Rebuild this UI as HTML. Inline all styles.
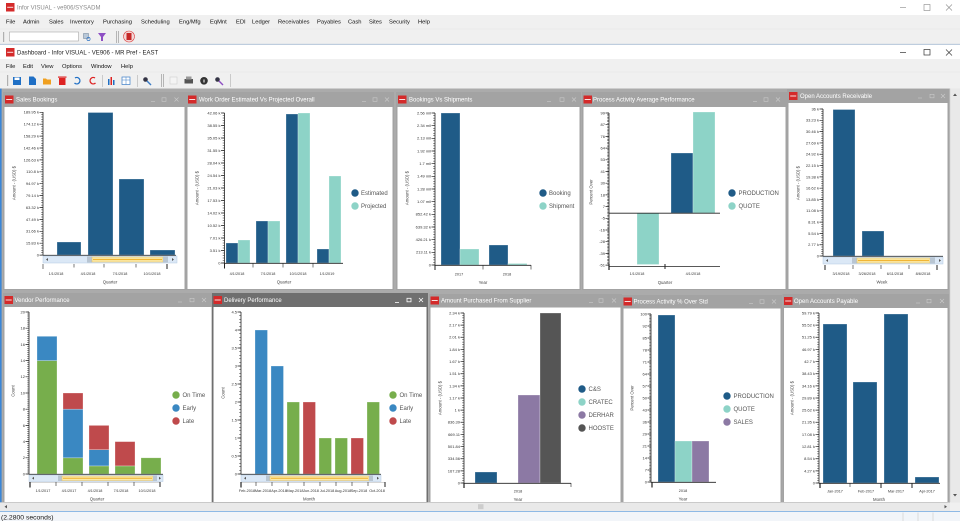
<!DOCTYPE html>
<html><head><meta charset="utf-8"><style>
html,body{margin:0;padding:0;background:#f0f0f0;overflow:hidden}
svg{display:block}
text{font-family:"Liberation Sans",Arial,sans-serif}
.yt{font-size:4px;fill:#333;text-anchor:end}
.xt{font-size:3.8px;fill:#333;text-anchor:middle}
.ax{font-size:4.3px;fill:#444;text-anchor:middle}
.lg{font-size:6px;fill:#555}
.tt{font-size:6px;fill:#fff}
.mn{font-size:5.8px;fill:#111}
.ctl{stroke:#cacaca;stroke-width:.6;fill:none}
.ctw{stroke:#fff;stroke-width:.8;fill:none}
.A{fill:#1f5b87}.B{fill:#8dd3c7}.P{fill:#8c79a4}.G{fill:#77ae4c}.E{fill:#3a88c2}.R{fill:#bf4a4c}.K{fill:#555}
.bars rect{stroke:#fff;stroke-opacity:.45;stroke-width:.6}
.axl{stroke:#222;stroke-width:.8}
.mj{stroke:#222;stroke-width:3.5}
.mi{stroke:#222;stroke-width:1.8}
.tk{stroke:#222;stroke-width:.6}
</style></head><body>
<svg width="960" height="521" viewBox="0 0 960 521" xmlns="http://www.w3.org/2000/svg">
<!-- ===== Window chrome ===== -->
<rect x="0" y="0" width="960" height="15" fill="#fff"/>
<rect x="0" y="15" width="960" height="14" fill="#f0f0f0"/>
<rect x="0" y="29" width="960" height="15" fill="#f0f0f0"/>
<line x1="0" y1="29" x2="960" y2="29" stroke="#e4e4e4" stroke-width=".6"/>
<line x1="0" y1="44.3" x2="960" y2="44.3" stroke="#9fb6cf" stroke-width=".8"/>
<rect x="0" y="44.8" width="960" height="14.2" fill="#fff"/>
<rect x="0" y="59" width="960" height="13" fill="#f0f0f0"/>
<rect x="0" y="72" width="960" height="17" fill="#f0f0f0"/>
<line x1="0" y1="72" x2="960" y2="72" stroke="#e4e4e4" stroke-width=".6"/>

<!-- outer title -->
<rect x="6" y="3" width="8.5" height="8.5" fill="#d42a2a"/>
<rect x="7.2" y="6.8" width="6" height="1" fill="#fff" opacity=".85"/>
<text x="17" y="9.6" style="font-size:6px;fill:#8a8a8a">Infor VISUAL - ve906/SYSADM</text>
<line x1="900" y1="7.5" x2="906" y2="7.5" stroke="#888" stroke-width=".6"/>
<rect x="924" y="4.5" width="6" height="6" fill="none" stroke="#888" stroke-width=".6"/>
<path d="M946 4.5 L952 10.5 M952 4.5 L946 10.5" stroke="#888" stroke-width=".6"/>

<!-- outer menu -->
<g class="mn">
<text x="6" y="23.6">File</text>
<text x="23" y="23.6">Admin</text>
<text x="49" y="23.6">Sales</text>
<text x="70" y="23.6">Inventory</text>
<text x="103" y="23.6">Purchasing</text>
<text x="141" y="23.6">Scheduling</text>
<text x="179" y="23.6">Eng/Mfg</text>
<text x="210" y="23.6">EqMnt</text>
<text x="236" y="23.6">EDI</text>
<text x="252" y="23.6">Ledger</text>
<text x="278" y="23.6">Receivables</text>
<text x="317" y="23.6">Payables</text>
<text x="348" y="23.6">Cash</text>
<text x="369" y="23.6">Sites</text>
<text x="389" y="23.6">Security</text>
<text x="418" y="23.6">Help</text>
</g>

<!-- outer toolbar -->
<rect x="3" y="32" width="1.2" height="10" fill="#b0b0b0"/>
<rect x="9.5" y="32" width="69" height="9" fill="#fff" stroke="#a8a8a8" stroke-width=".6"/>
<rect x="83.5" y="33.5" width="5" height="5" fill="#b8c8d8" stroke="#6a7f95" stroke-width=".5"/>
<circle cx="88.5" cy="39" r="1.6" fill="none" stroke="#2d72c4" stroke-width=".7"/>
<path d="M98 33 L106 33 L103 37 L103 41 L101 41 L101 37 Z" fill="#8e4fc4"/>
<rect x="116" y="31" width="1" height="12" fill="#b5b5b5"/>
<rect x="118" y="31" width="1" height="12" fill="#b5b5b5"/>
<circle cx="129" cy="36.5" r="5.5" fill="#f3d7d7" stroke="#d44" stroke-width=".6"/>
<rect x="126.5" y="33" width="5" height="7" fill="#c52727"/>

<!-- inner title -->
<rect x="6" y="48" width="8.5" height="8.5" fill="#d42a2a"/>
<rect x="7.2" y="51.8" width="6" height="1" fill="#fff" opacity=".85"/>
<text x="17" y="54.6" style="font-size:6px;fill:#222">Dashboard - Infor VISUAL - VE906 - MR Pref - EAST</text>
<line x1="900" y1="52.5" x2="906" y2="52.5" stroke="#333" stroke-width=".7"/>
<rect x="924" y="49.5" width="6" height="5.5" fill="none" stroke="#333" stroke-width=".7"/>
<path d="M946 49.5 L952 55.5 M952 49.5 L946 55.5" stroke="#333" stroke-width=".7"/>

<!-- inner menu -->
<g class="mn">
<text x="6" y="67.8">File</text>
<text x="23" y="67.8">Edit</text>
<text x="41" y="67.8">View</text>
<text x="62" y="67.8">Options</text>
<text x="91" y="67.8">Window</text>
<text x="121" y="67.8">Help</text>
</g>

<!-- inner toolbar icons -->
<rect x="7" y="75" width="1.2" height="11" fill="#b0b0b0"/>
<rect x="13" y="77" width="8" height="8" fill="#1f6fc5"/><rect x="14.5" y="77.5" width="5" height="2.5" fill="#fff"/>
<path d="M29 76.5 L33.5 76.5 L36 79 L36 85 L29 85 Z" fill="#1f6fc5"/>
<path d="M43 78.5 L46 78.5 L47 79.5 L51 79.5 L51 84.5 L43 84.5 Z" fill="#f0a020"/>
<rect x="59" y="78" width="6.5" height="7" fill="#d22"/><rect x="58" y="76.5" width="8.5" height="1.2" fill="#d22"/>
<path d="M75 78 A3.2 3.2 0 1 1 74.5 83" fill="none" stroke="#1f6fc5" stroke-width="1.3"/>
<path d="M95 78 A3.2 3.2 0 1 0 95.5 83" fill="none" stroke="#d22" stroke-width="1.3"/>
<rect x="102" y="75" width=".8" height="12" fill="#c0c0c0"/>
<rect x="108" y="79" width="1.5" height="6" fill="#1f6fc5"/><rect x="110.5" y="77" width="1.5" height="8" fill="#d22"/><rect x="113" y="80" width="1.5" height="5" fill="#1f6fc5"/>
<rect x="122" y="77" width="8" height="7.5" fill="#fff" stroke="#3b7cc6" stroke-width=".7"/><line x1="122" y1="80" x2="130" y2="80" stroke="#3b7cc6" stroke-width=".5"/><line x1="126" y1="77" x2="126" y2="84.5" stroke="#3b7cc6" stroke-width=".5"/>
<rect x="137" y="75" width=".8" height="12" fill="#c0c0c0"/>
<circle cx="145.5" cy="79.5" r="2.3" fill="#334"/><path d="M147 81 L151 85" stroke="#3b7cc6" stroke-width="1.4"/>
<rect x="161" y="74" width="1" height="13" fill="#b5b5b5"/><rect x="163" y="74" width="1" height="13" fill="#b5b5b5"/>
<rect x="170" y="77" width="7" height="7" fill="#f4f4f4" stroke="#cfcfcf" stroke-width=".6"/>
<rect x="184.5" y="79" width="8.5" height="4.5" fill="#555"/><rect x="186" y="76.5" width="5.5" height="3" fill="#999"/>
<circle cx="204" cy="80.8" r="3.8" fill="#333"/><rect x="203.5" y="79.5" width="1" height="3" fill="#fff"/>
<circle cx="217.5" cy="79.5" r="2.3" fill="#334"/><path d="M219 81 L223 85" stroke="#8e4fc4" stroke-width="1.4"/>
<rect x="230" y="74" width=".8" height="13" fill="#c0c0c0"/>

<!-- MDI area -->
<rect x="0" y="88.5" width="950" height="414" fill="#ababab"/>
<rect x="0" y="88.5" width="1.6" height="423" fill="#3b86d6"/>
<rect x="950" y="88.5" width="10" height="414" fill="#e9e9e9"/>
<line x1="950" y1="88.5" x2="950" y2="502" stroke="#cfcfcf" stroke-width=".6"/>
<path d="M953 96 L955 93.5 L957 96 Z" fill="#555"/>
<path d="M953 494 L955 496.5 L957 494 Z" fill="#555"/>

<!-- ================= P1 Sales Bookings ================= -->
<rect x="3" y="92" width="183" height="198" fill="#a3a3a3"/>
<rect x="4.5" y="107" width="180" height="182" fill="#fff"/>
<rect x="5" y="95.5" width="8.5" height="8" fill="#d42a2a"/><rect x="6.2" y="99" width="6" height="1" fill="#fff" opacity=".85"/>
<text class="tt" x="16" y="101.7">Sales Bookings</text>
<g class="ctl"><line x1="151" y1="101.5" x2="155" y2="101.5"/><rect x="162" y="97.8" width="4" height="3.5"/><path d="M174.5 97.5 L178.5 101.5 M178.5 97.5 L174.5 101.5"/></g>
<line class="axl" x1="43" y1="112" x2="43" y2="255.5"/>
<line class="mj" x1="41.25" y1="111.95" x2="41.25" y2="256" stroke-dasharray="0.7 11.2"/>
<line class="mi" x1="42.1" y1="112.05" x2="42.1" y2="256" stroke-dasharray="0.5 1.88"/>
<g class="yt">
<text x="39" y="113.7">189.95 k</text><text x="39" y="125.6">174.12 k</text><text x="39" y="137.5">158.29 k</text><text x="39" y="149.4">142.46 k</text><text x="39" y="161.3">126.63 k</text><text x="39" y="173.2">110.8 k</text><text x="39" y="185.1">94.97 k</text><text x="39" y="197">79.14 k</text><text x="39" y="208.9">63.32 k</text><text x="39" y="220.8">47.49 k</text><text x="39" y="232.7">31.66 k</text><text x="39" y="244.6">15.83 k</text><text x="39" y="256.5">0</text>
</g>
<g class="bars A">
<rect x="57" y="242" width="24" height="13"/><rect x="88" y="112.5" width="25" height="142.5"/><rect x="119" y="179" width="25" height="76"/><rect x="150" y="250" width="25" height="5"/>
</g>
<line class="axl" x1="43" y1="255.3" x2="176" y2="255.3"/>
<rect x="43" y="256" width="134" height="7" fill="#dbe8f6" stroke="#b3cae2" stroke-width=".5"/>
<path d="M46 259.5 L48 258 L48 261 Z" fill="#555"/>
<rect x="87" y="256.5" width="5" height="6" fill="#b8c5d2"/>
<rect x="92" y="257" width="71" height="5" fill="#fbe9a8" stroke="#e2bd60" stroke-width=".5"/>
<rect x="93" y="258.9" width="69" height="1.2" fill="#f1b534"/>
<rect x="163" y="256.5" width="5" height="6" fill="#b8c5d2"/>
<path d="M174 259.5 L172 258 L172 261 Z" fill="#555"/>
<g class="tk"><line x1="43" y1="264" x2="43" y2="269"/><line x1="74" y1="264" x2="74" y2="267.5"/><line x1="104" y1="264" x2="104" y2="267.5"/><line x1="136" y1="264" x2="136" y2="267.5"/><line x1="167" y1="264" x2="167" y2="269" stroke-width="1"/></g>
<g class="xt"><text x="56" y="274.8">1/1/2018</text><text x="88" y="274.8">4/1/2018</text><text x="120" y="274.8">7/1/2018</text><text x="152" y="274.8">10/1/2018</text></g>
<text class="ax" x="110" y="283.5">Quarter</text>
<text class="ax" transform="translate(15.5,183) rotate(-90)">Amount - (USD) $</text>

<!-- ================= P2 Work Order ================= -->
<rect x="186" y="92" width="208" height="198" fill="#a3a3a3"/>
<rect x="187.5" y="107" width="205" height="182" fill="#fff"/>
<rect x="188" y="95.5" width="8.5" height="8" fill="#d42a2a"/><rect x="189.2" y="99" width="6" height="1" fill="#fff" opacity=".85"/>
<text class="tt" x="199" y="101.7">Work Order Estimated Vs Projected Overall</text>
<g class="ctl"><line x1="362" y1="101.5" x2="366" y2="101.5"/><rect x="373" y="97.8" width="4" height="3.5"/><path d="M385 97.5 L389 101.5 M389 97.5 L385 101.5"/></g>
<line class="axl" x1="224.5" y1="113" x2="224.5" y2="263.5"/>
<line class="mj" x1="222.75" y1="112.65" x2="222.75" y2="264" stroke-dasharray="0.7 11.8"/>
<line class="mi" x1="223.6" y1="112.75" x2="223.6" y2="264" stroke-dasharray="0.5 2"/>
<g class="yt">
<text x="220.5" y="114.4">42.06 k</text><text x="220.5" y="126.9">38.55 k</text><text x="220.5" y="139.4">35.05 k</text><text x="220.5" y="151.9">31.55 k</text><text x="220.5" y="164.4">28.04 k</text><text x="220.5" y="176.9">24.54 k</text><text x="220.5" y="189.4">21.03 k</text><text x="220.5" y="201.9">17.53 k</text><text x="220.5" y="214.4">14.02 k</text><text x="220.5" y="226.9">10.52 k</text><text x="220.5" y="239.4">7.01 k</text><text x="220.5" y="251.9">3.51 k</text><text x="220.5" y="264.4">0</text>
</g>
<g class="bars">
<rect class="A" x="226" y="243" width="12" height="20"/><rect class="B" x="238" y="240" width="12" height="23"/>
<rect class="A" x="256" y="221" width="12" height="42"/><rect class="B" x="268" y="221" width="12" height="42"/>
<rect class="A" x="286" y="114" width="12" height="149"/><rect class="B" x="298" y="113" width="12" height="150"/>
<rect class="A" x="317" y="249" width="12" height="14"/><rect class="B" x="329" y="176" width="12" height="87"/>
</g>
<line class="axl" x1="224.5" y1="263.3" x2="343" y2="263.3" stroke-width="1"/>
<g class="tk"><line x1="224.5" y1="263" x2="224.5" y2="268.5" stroke-width="1"/><line x1="253" y1="263" x2="253" y2="267.5"/><line x1="283" y1="263" x2="283" y2="267.5"/><line x1="313" y1="263" x2="313" y2="267.5"/></g>
<g class="xt"><text x="237" y="274.8">4/1/2018</text><text x="268" y="274.8">7/1/2018</text><text x="298" y="274.8">10/1/2018</text><text x="327" y="274.8">1/1/2019</text></g>
<text class="ax" x="284" y="283.5">Quarter</text>
<text class="ax" transform="translate(198.5,188) rotate(-90)">Amount - (USD) $</text>
<circle class="A" cx="355" cy="193" r="3.7"/><circle class="B" cx="355" cy="206" r="3.7"/>
<text class="lg" x="361" y="195.2">Estimated</text><text class="lg" x="361" y="208.2">Projected</text>

<!-- ================= P3 Bookings Vs Shipments ================= -->
<rect x="396" y="92" width="185" height="198" fill="#a3a3a3"/>
<rect x="397.5" y="107" width="182" height="182" fill="#fff"/>
<rect x="398" y="95.5" width="8.5" height="8" fill="#d42a2a"/><rect x="399.2" y="99" width="6" height="1" fill="#fff" opacity=".85"/>
<text class="tt" x="409" y="101.7">Bookings Vs Shipments</text>
<g class="ctl"><line x1="547" y1="101.5" x2="551" y2="101.5"/><rect x="560" y="97.8" width="4" height="3.5"/><path d="M572 97.5 L576 101.5 M576 97.5 L572 101.5"/></g>
<line class="axl" x1="435" y1="113" x2="435" y2="265.5"/>
<line class="mj" x1="433.25" y1="112.65" x2="433.25" y2="266" stroke-dasharray="0.7 11.967"/>
<line class="mi" x1="434.1" y1="112.75" x2="434.1" y2="266" stroke-dasharray="0.5 2.033"/>
<g class="yt">
<text x="431" y="114.4">2.56 mil</text><text x="431" y="127.1">2.34 mil</text><text x="431" y="139.7">2.13 mil</text><text x="431" y="152.4">1.92 mil</text><text x="431" y="165.1">1.7 mil</text><text x="431" y="177.7">1.49 mil</text><text x="431" y="190.4">1.28 mil</text><text x="431" y="203.1">1.07 mil</text><text x="431" y="215.7">852.42 k</text><text x="431" y="228.4">639.32 k</text><text x="431" y="241.1">426.21 k</text><text x="431" y="253.7">213.11 k</text><text x="431" y="266.4">0</text>
</g>
<g class="bars">
<rect class="A" x="441" y="113" width="19" height="152"/><rect class="B" x="460" y="249" width="19" height="16"/>
<rect class="A" x="489" y="245" width="19" height="20"/><rect class="B" x="508" y="263.5" width="19" height="1.5"/>
</g>
<line class="axl" x1="435" y1="265.3" x2="531" y2="265.3" stroke-width="1"/>
<g class="tk"><line x1="435" y1="265" x2="435" y2="270" stroke-width="1"/><line x1="483" y1="265" x2="483" y2="269.5"/><line x1="531" y1="265" x2="531" y2="269.5"/></g>
<g class="xt"><text x="459" y="275.3">2017</text><text x="507" y="275.3">2018</text></g>
<text class="ax" x="483" y="284">Year</text>
<text class="ax" transform="translate(408.5,188) rotate(-90)">Amount - (USD) $</text>
<circle class="A" cx="543" cy="193" r="3.7"/><circle class="B" cx="543" cy="206" r="3.7"/>
<text class="lg" x="549" y="195.2">Booking</text><text class="lg" x="549" y="208.2">Shipment</text>

<!-- ================= P4 Process Activity Average Performance ================= -->
<rect x="582" y="92" width="205" height="198" fill="#a3a3a3"/>
<rect x="583.5" y="107" width="202" height="182" fill="#fff"/>
<rect x="583.5" y="95.5" width="8.5" height="8" fill="#d42a2a"/><rect x="584.7" y="99" width="6" height="1" fill="#fff" opacity=".85"/>
<text class="tt" x="593" y="101.7">Process Activity Average Performance</text>
<g class="ctl"><line x1="753" y1="101.5" x2="757" y2="101.5"/><rect x="764" y="97.8" width="4" height="3.5"/><path d="M776 97.5 L780 101.5 M780 97.5 L776 101.5"/></g>
<line class="axl" x1="609" y1="113" x2="609" y2="266"/>
<line class="mj" x1="607.25" y1="112.65" x2="607.25" y2="266" stroke-dasharray="0.7 11"/>
<line class="mi" x1="608.1" y1="112.75" x2="608.1" y2="266" stroke-dasharray="0.5 0.9625"/>
<g class="yt">
<text x="605" y="114.4">99</text><text x="605" y="126.1">87</text><text x="605" y="137.8">76</text><text x="605" y="149.5">64</text><text x="605" y="161.2">53</text><text x="605" y="172.9">41</text><text x="605" y="184.6">30</text><text x="605" y="196.3">18</text><text x="605" y="208">7</text><text x="605" y="219.7">-5</text><text x="605" y="231.4">-16</text><text x="605" y="243.1">-28</text><text x="605" y="254.8">-39</text><text x="605" y="266.5">-51</text>
</g>
<g class="bars">
<rect class="B" x="637" y="213" width="22" height="51.5"/>
<rect class="A" x="671" y="153" width="22" height="60"/><rect class="B" x="693" y="112" width="22" height="101"/>
</g>
<line x1="609" y1="213.2" x2="720" y2="213.2" stroke="#222" stroke-width=".9"/>
<line class="axl" x1="609" y1="266.5" x2="720" y2="266.5" stroke-width="1"/>
<g class="tk"><line x1="609" y1="264" x2="609" y2="270" stroke-width="1.2"/><line x1="665" y1="264" x2="665" y2="269" stroke-width="1"/></g>
<g class="xt"><text x="637" y="275">1/1/2018</text><text x="693" y="275">4/1/2018</text></g>
<text class="ax" x="665" y="284">Quarter</text>
<text class="ax" transform="translate(592.5,192) rotate(-90)">Percent Over</text>
<circle class="A" cx="732" cy="193" r="3.7"/><circle class="B" cx="732" cy="206" r="3.7"/>
<text class="lg" x="738.5" y="195.2">PRODUCTION</text><text class="lg" x="738.5" y="208.2">QUOTE</text>

<!-- ================= P5 Open Accounts Receivable ================= -->
<rect x="787" y="89" width="162" height="201" fill="#a3a3a3"/>
<rect x="788.5" y="103" width="159" height="186" fill="#fff"/>
<rect x="789" y="92" width="8.5" height="8" fill="#d42a2a"/><rect x="790.2" y="95.5" width="6" height="1" fill="#fff" opacity=".85"/>
<text class="tt" x="800" y="98.2">Open Accounts Receivable</text>
<g class="ctl"><line x1="918" y1="98" x2="922" y2="98"/><rect x="930" y="94.3" width="4" height="3.5"/><path d="M941 94 L945 98 M945 94 L941 98"/></g>
<line class="axl" x1="823" y1="109" x2="823" y2="256.5"/>
<line class="mj" x1="821.25" y1="108.65" x2="821.25" y2="257" stroke-dasharray="0.7 10.61"/>
<line class="mi" x1="822.1" y1="108.75" x2="822.1" y2="257" stroke-dasharray="0.5 1.762"/>
<g class="yt">
<text x="819" y="110.4">36 k</text><text x="819" y="121.7">33.23 k</text><text x="819" y="133">30.46 k</text><text x="819" y="144.3">27.69 k</text><text x="819" y="155.6">24.92 k</text><text x="819" y="167">22.15 k</text><text x="819" y="178.3">19.38 k</text><text x="819" y="189.6">16.62 k</text><text x="819" y="200.9">13.85 k</text><text x="819" y="212.2">11.08 k</text><text x="819" y="223.5">8.31 k</text><text x="819" y="234.8">5.54 k</text><text x="819" y="246.1">2.77 k</text><text x="819" y="257.4">0</text>
</g>
<g class="bars A"><rect x="833" y="109.5" width="22" height="146.5"/><rect x="862" y="231" width="22" height="25"/></g>
<line class="axl" x1="823" y1="256.3" x2="943" y2="256.3"/>
<rect x="823" y="257" width="120" height="7" fill="#dbe8f6" stroke="#b3cae2" stroke-width=".5"/>
<path d="M826 260.5 L828 259 L828 262 Z" fill="#555"/>
<rect x="852" y="257.5" width="5" height="6" fill="#b8c5d2"/>
<rect x="857" y="258" width="73" height="5" fill="#fbe9a8" stroke="#e2bd60" stroke-width=".5"/>
<rect x="858" y="259.9" width="71" height="1.2" fill="#f1b534"/>
<rect x="930" y="257.5" width="5" height="6" fill="#b8c5d2"/>
<path d="M941 260.5 L939 259 L939 262 Z" fill="#555"/>
<g class="tk"><line x1="825" y1="265" x2="825" y2="270" stroke-width="1"/><line x1="853" y1="265" x2="853" y2="269"/><line x1="881" y1="265" x2="881" y2="269"/><line x1="909" y1="265" x2="909" y2="269"/><line x1="937" y1="265" x2="937" y2="270" stroke-width="1"/></g>
<g class="xt"><text x="841" y="274.8">3/19/2018</text><text x="867" y="274.8">3/26/2018</text><text x="895" y="274.8">6/11/2018</text><text x="923" y="274.8">8/6/2018</text></g>
<text class="ax" x="882" y="283.5">Week</text>
<text class="ax" transform="translate(799.5,183) rotate(-90)">Amount - (USD) $</text>

<!-- ================= P6 Vendor Performance ================= -->
<rect x="3" y="293" width="210" height="210" fill="#a3a3a3"/>
<rect x="4.5" y="307" width="207" height="195" fill="#fff"/>
<rect x="4.5" y="296" width="8.5" height="8" fill="#d42a2a"/><rect x="5.7" y="299.5" width="6" height="1" fill="#fff" opacity=".85"/>
<text class="tt" x="14.5" y="302.2">Vendor Performance</text>
<g class="ctl"><line x1="178" y1="302" x2="182" y2="302"/><rect x="190" y="298.3" width="4" height="3.5"/><path d="M202 298 L206 302 M206 298 L202 302"/></g>
<line class="axl" x1="29" y1="312" x2="29" y2="474.5"/>
<line class="mj" x1="27.25" y1="311.65" x2="27.25" y2="475" stroke-dasharray="0.7 15.5"/>
<line class="mi" x1="28.1" y1="311.75" x2="28.1" y2="475" stroke-dasharray="0.5 1.525"/>
<g class="yt">
<text x="25" y="313.4">20</text><text x="25" y="329.6">18</text><text x="25" y="345.8">16</text><text x="25" y="362">14</text><text x="25" y="378.2">12</text><text x="25" y="394.4">10</text><text x="25" y="410.6">8</text><text x="25" y="426.8">6</text><text x="25" y="443">4</text><text x="25" y="459.2">2</text><text x="25" y="475.4">0</text>
</g>
<g class="bars">
<rect class="G" x="37" y="360.6" width="20" height="113.4"/><rect class="E" x="37" y="336.3" width="20" height="24.3"/>
<rect class="G" x="63" y="457.8" width="20" height="16.2"/><rect class="E" x="63" y="409.2" width="20" height="48.6"/><rect class="R" x="63" y="393" width="20" height="16.2"/>
<rect class="G" x="89" y="465.9" width="20" height="8.1"/><rect class="E" x="89" y="449.7" width="20" height="16.2"/><rect class="R" x="89" y="425.4" width="20" height="24.3"/>
<rect class="G" x="115" y="465.9" width="20" height="8.1"/><rect class="R" x="115" y="441.6" width="20" height="24.3"/>
<rect class="G" x="141" y="457.8" width="20" height="16.2"/>
</g>
<line class="axl" x1="29" y1="474.3" x2="163" y2="474.3"/>
<rect x="29" y="475" width="134" height="6.5" fill="#dbe8f6" stroke="#b3cae2" stroke-width=".5"/>
<path d="M32 478.2 L34 476.8 L34 479.6 Z" fill="#555"/>
<rect x="58" y="475.5" width="4" height="5.5" fill="#b8c5d2"/>
<rect x="62" y="476" width="91" height="4.5" fill="#fbe9a8" stroke="#e2bd60" stroke-width=".5"/>
<rect x="63" y="477.7" width="89" height="1.1" fill="#f1b534"/>
<rect x="153" y="475.5" width="4" height="5.5" fill="#b8c5d2"/>
<path d="M161 478.2 L159 476.8 L159 479.6 Z" fill="#555"/>
<line x1="29" y1="482.5" x2="160" y2="482.5" stroke="#999" stroke-width=".4"/>
<g class="tk"><line x1="30" y1="482" x2="30" y2="487.5" stroke-width="1.2"/><line x1="56" y1="482" x2="56" y2="486"/><line x1="82" y1="482" x2="82" y2="486"/><line x1="108" y1="482" x2="108" y2="486"/><line x1="134" y1="482" x2="134" y2="486"/><line x1="160" y1="482" x2="160" y2="487" stroke-width="1"/></g>
<g class="xt"><text x="43" y="491.8">1/1/2017</text><text x="69" y="491.8">4/1/2017</text><text x="95" y="491.8">4/1/2018</text><text x="121" y="491.8">7/1/2018</text><text x="147" y="491.8">10/1/2018</text></g>
<text class="ax" x="97" y="500.5">Quarter</text>
<text class="ax" transform="translate(14.5,391) rotate(-90)">Count</text>
<circle class="G" cx="176" cy="395" r="3.7"/><circle class="E" cx="176" cy="408" r="3.7"/><circle class="R" cx="176" cy="421" r="3.7"/>
<text class="lg" x="182.5" y="397.2">On Time</text><text class="lg" x="182.5" y="410.2">Early</text><text class="lg" x="182.5" y="423.2">Late</text>

<!-- ================= P7 Delivery Performance ================= -->
<rect x="212" y="293" width="216" height="210" fill="#6f6f6f"/>
<rect x="213.5" y="307" width="213" height="195" fill="#fff"/>
<rect x="213.5" y="296" width="8.5" height="8" fill="#d42a2a"/><rect x="214.7" y="299.5" width="6" height="1" fill="#fff" opacity=".85"/>
<text class="tt" x="224" y="302.2">Delivery Performance</text>
<g class="ctw"><line x1="395" y1="302.5" x2="399" y2="302.5"/><rect x="407" y="298.3" width="4" height="3.5"/><path d="M419 298 L423 302 M423 298 L419 302"/></g>
<line class="axl" x1="241" y1="312" x2="241" y2="474.5"/>
<line class="mj" x1="239.25" y1="311.65" x2="239.25" y2="475" stroke-dasharray="0.7 17.3"/>
<line class="mi" x1="240.1" y1="311.75" x2="240.1" y2="475" stroke-dasharray="0.5 3.1"/>
<g class="yt">
<text x="237" y="313.4">4.5</text><text x="237" y="331.4">4</text><text x="237" y="349.4">3.5</text><text x="237" y="367.4">3</text><text x="237" y="385.4">2.5</text><text x="237" y="403.4">2</text><text x="237" y="421.4">1.5</text><text x="237" y="439.4">1</text><text x="237" y="457.4">0.5</text><text x="237" y="475.4">0</text>
</g>
<g class="bars">
<rect class="E" x="255" y="330" width="12.5" height="144"/>
<rect class="E" x="271" y="366" width="12.5" height="108"/>
<rect class="G" x="287" y="402" width="12.5" height="72"/>
<rect class="R" x="303" y="402" width="12.5" height="72"/>
<rect class="G" x="319" y="438" width="12.5" height="36"/>
<rect class="G" x="335" y="438" width="12.5" height="36"/>
<rect class="R" x="351" y="438" width="12.5" height="36"/>
<rect class="G" x="367" y="402" width="12.5" height="72"/>
</g>
<line class="axl" x1="241" y1="474.3" x2="381" y2="474.3"/>
<rect x="241" y="475" width="140" height="6.5" fill="#dbe8f6" stroke="#b3cae2" stroke-width=".5"/>
<path d="M244 478.2 L246 476.8 L246 479.6 Z" fill="#555"/>
<rect x="266" y="475.5" width="4" height="5.5" fill="#b8c5d2"/>
<rect x="270" y="476" width="99" height="4.5" fill="#fbe9a8" stroke="#e2bd60" stroke-width=".5"/>
<rect x="271" y="477.7" width="97" height="1.1" fill="#f1b534"/>
<rect x="369" y="475.5" width="4" height="5.5" fill="#b8c5d2"/>
<path d="M379 478.2 L377 476.8 L377 479.6 Z" fill="#555"/>
<line x1="241" y1="482.5" x2="385" y2="482.5" stroke="#999" stroke-width=".4"/>
<g class="tk"><line x1="241" y1="482" x2="241" y2="487.5" stroke-width="1.2"/><line x1="256" y1="482" x2="256" y2="486"/><line x1="272" y1="482" x2="272" y2="486"/><line x1="288" y1="482" x2="288" y2="486"/><line x1="304" y1="482" x2="304" y2="486"/><line x1="320" y1="482" x2="320" y2="486"/><line x1="336" y1="482" x2="336" y2="486"/><line x1="352" y1="482" x2="352" y2="486"/><line x1="368" y1="482" x2="368" y2="486"/><line x1="385" y1="482" x2="385" y2="487" stroke-width="1"/></g>
<g class="xt"><text x="247" y="491.8">Feb-2018</text><text x="263" y="491.8">Mar-2018</text><text x="279" y="491.8">Apr-2018</text><text x="295" y="491.8">May-2018</text><text x="311" y="491.8">Jun-2018</text><text x="327" y="491.8">Jul-2018</text><text x="343" y="491.8">Aug-2018</text><text x="359" y="491.8">Sep-2018</text><text x="377" y="491.8">Oct-2018</text></g>
<text class="ax" x="309" y="500.5">Month</text>
<text class="ax" transform="translate(224.5,393) rotate(-90)">Count</text>
<circle class="G" cx="393" cy="395" r="3.7"/><circle class="E" cx="393" cy="408" r="3.7"/><circle class="R" cx="393" cy="421" r="3.7"/>
<text class="lg" x="399.5" y="397.2">On Time</text><text class="lg" x="399.5" y="410.2">Early</text><text class="lg" x="399.5" y="423.2">Late</text>

<!-- ================= P8 Amount Purchased From Supplier ================= -->
<rect x="429" y="294" width="193" height="209" fill="#a3a3a3"/>
<rect x="430.5" y="307.5" width="190" height="194.5" fill="#fff"/>
<rect x="430.5" y="296.5" width="8.5" height="8" fill="#d42a2a"/><rect x="431.7" y="300" width="6" height="1" fill="#fff" opacity=".85"/>
<text class="tt" x="441" y="302.7">Amount Purchased From Supplier</text>
<g class="ctl"><line x1="589" y1="302.5" x2="593" y2="302.5"/><rect x="599" y="298.8" width="4" height="3.5"/><path d="M612 298.5 L616 302.5 M616 298.5 L612 302.5"/></g>
<line class="axl" x1="464" y1="313" x2="464" y2="483.5"/>
<line class="mj" x1="462.25" y1="312.65" x2="462.25" y2="484" stroke-dasharray="0.7 11.443"/>
<line class="mi" x1="463.1" y1="312.75" x2="463.1" y2="484" stroke-dasharray="0.5 1.9286"/>
<g class="yt">
<text x="460" y="314.4">2.34 k</text><text x="460" y="326.5">2.17 k</text><text x="460" y="338.7">2.01 k</text><text x="460" y="350.8">1.84 k</text><text x="460" y="363">1.67 k</text><text x="460" y="375.1">1.51 k</text><text x="460" y="387.3">1.34 k</text><text x="460" y="399.4">1.17 k</text><text x="460" y="411.5">1 k</text><text x="460" y="423.7">836.39</text><text x="460" y="435.8">669.11</text><text x="460" y="448">501.84</text><text x="460" y="460.1">334.56</text><text x="460" y="472.3">167.28</text><text x="460" y="484.4">0</text>
</g>
<g class="bars">
<rect class="A" x="475" y="472" width="22" height="11"/>
<rect class="P" x="518" y="395" width="22" height="88"/>
<rect class="K" x="540" y="313" width="21" height="170"/>
</g>
<line class="axl" x1="464" y1="483.3" x2="571" y2="483.3" stroke-width="1"/>
<g class="tk"><line x1="464" y1="483" x2="464" y2="488" stroke-width="1.2"/><line x1="571" y1="483" x2="571" y2="487"/></g>
<text class="xt" x="518" y="492.3">2018</text>
<text class="ax" x="518" y="501">Year</text>
<text class="ax" transform="translate(441.5,398) rotate(-90)">Amount - (USD) $</text>
<circle class="A" cx="582" cy="389" r="3.7"/><circle class="B" cx="582" cy="402" r="3.7"/><circle class="P" cx="582" cy="415" r="3.7"/><circle class="K" cx="582" cy="428" r="3.7"/>
<text class="lg" x="588.5" y="391.2">C&amp;S</text><text class="lg" x="588.5" y="404.2">CRATEC</text><text class="lg" x="588.5" y="417.2">DERHAR</text><text class="lg" x="588.5" y="430.2">HOOSTE</text>

<!-- ================= P9 Process Activity % Over Std ================= -->
<rect x="622" y="295" width="160" height="208" fill="#a3a3a3"/>
<rect x="623.5" y="308.5" width="157" height="193.5" fill="#fff"/>
<rect x="623.5" y="297.5" width="8.5" height="8" fill="#d42a2a"/><rect x="624.7" y="301" width="6" height="1" fill="#fff" opacity=".85"/>
<text class="tt" x="633.5" y="303.7">Process Activity % Over Std</text>
<g class="ctl"><line x1="749" y1="303.5" x2="753" y2="303.5"/><rect x="760" y="299.8" width="4" height="3.5"/><path d="M772 299.5 L776 303.5 M776 299.5 L772 303.5"/></g>
<line class="axl" x1="651" y1="314" x2="651" y2="482.5"/>
<line class="mj" x1="649.25" y1="313.65" x2="649.25" y2="483" stroke-dasharray="0.7 11.3"/>
<line class="mi" x1="650.1" y1="313.75" x2="650.1" y2="483" stroke-dasharray="0.5 1"/>
<g class="yt">
<text x="647" y="315.4">100</text><text x="647" y="327.4">92</text><text x="647" y="339.4">85</text><text x="647" y="351.4">78</text><text x="647" y="363.4">71</text><text x="647" y="375.4">64</text><text x="647" y="387.4">57</text><text x="647" y="399.4">50</text><text x="647" y="411.4">43</text><text x="647" y="423.4">36</text><text x="647" y="435.4">29</text><text x="647" y="447.4">21</text><text x="647" y="459.4">14</text><text x="647" y="471.4">7</text><text x="647" y="483.4">0</text>
</g>
<g class="bars">
<rect class="A" x="658" y="315" width="17" height="167"/>
<rect class="B" x="675" y="441" width="17" height="41"/>
<rect class="P" x="692" y="441" width="17" height="41"/>
</g>
<line class="axl" x1="651" y1="482.3" x2="716" y2="482.3" stroke-width="1"/>
<g class="tk"><line x1="652" y1="482" x2="652" y2="487.5" stroke-width="1.2"/></g>
<text class="xt" x="683" y="491.8">2018</text>
<text class="ax" x="683" y="500.5">Year</text>
<text class="ax" transform="translate(633.5,398) rotate(-90)">Percent Over</text>
<circle class="A" cx="727" cy="396" r="3.7"/><circle class="B" cx="727" cy="409" r="3.7"/><circle class="P" cx="727" cy="422" r="3.7"/>
<text class="lg" x="733.5" y="398.2">PRODUCTION</text><text class="lg" x="733.5" y="411.2">QUOTE</text><text class="lg" x="733.5" y="424.2">SALES</text>

<!-- ================= P10 Open Accounts Payable ================= -->
<rect x="782.5" y="294" width="166.5" height="209" fill="#a3a3a3"/>
<rect x="784" y="308" width="163.5" height="194" fill="#fff"/>
<rect x="784" y="297" width="8.5" height="8" fill="#d42a2a"/><rect x="785.2" y="300.5" width="6" height="1" fill="#fff" opacity=".85"/>
<text class="tt" x="794" y="303.2">Open Accounts Payable</text>
<g class="ctl"><line x1="916" y1="303" x2="920" y2="303"/><rect x="927" y="299.3" width="4" height="3.5"/><path d="M940 299 L944 303 M944 299 L940 303"/></g>
<line class="axl" x1="819" y1="313" x2="819" y2="483.5"/>
<line class="mj" x1="817.25" y1="312.65" x2="817.25" y2="484" stroke-dasharray="0.7 11.443"/>
<line class="mi" x1="818.1" y1="312.75" x2="818.1" y2="484" stroke-dasharray="0.5 1.9286"/>
<g class="yt">
<text x="815" y="314.4">59.79 k</text><text x="815" y="326.5">55.52 k</text><text x="815" y="338.7">51.25 k</text><text x="815" y="350.8">46.97 k</text><text x="815" y="363">42.7 k</text><text x="815" y="375.1">38.43 k</text><text x="815" y="387.3">34.16 k</text><text x="815" y="399.4">29.89 k</text><text x="815" y="411.5">25.62 k</text><text x="815" y="423.7">21.35 k</text><text x="815" y="435.8">17.08 k</text><text x="815" y="448">12.81 k</text><text x="815" y="460.1">8.54 k</text><text x="815" y="472.3">4.27 k</text><text x="815" y="484.4">0</text>
</g>
<g class="bars A">
<rect x="823" y="324" width="24" height="159"/><rect x="853" y="382" width="24" height="101"/><rect x="884" y="314" width="24" height="169"/><rect x="915" y="477" width="24" height="6"/>
</g>
<line class="axl" x1="819" y1="483.3" x2="940" y2="483.3" stroke-width="1"/>
<g class="tk"><line x1="820" y1="483" x2="820" y2="488" stroke-width="1.2"/><line x1="850" y1="483" x2="850" y2="487"/><line x1="881" y1="483" x2="881" y2="488" stroke-width="1"/><line x1="912" y1="483" x2="912" y2="488" stroke-width="1"/></g>
<g class="xt"><text x="835" y="492.3">Jan-2017</text><text x="866" y="492.3">Feb-2017</text><text x="896" y="492.3">Mar-2017</text><text x="927" y="492.3">Apr-2017</text></g>
<text class="ax" x="879" y="501">Month</text>
<text class="ax" transform="translate(793.5,398) rotate(-90)">Amount - (USD) $</text>

<!-- bottom scroll + status -->
<rect x="0" y="502.5" width="950" height="8.5" fill="#e9e9e9"/>
<line x1="0" y1="502.5" x2="950" y2="502.5" stroke="#cfcfcf" stroke-width=".5"/>
<path d="M4.5 506.7 L7 505 L7 508.4 Z" fill="#555"/>
<rect x="478" y="504.2" width="5.5" height="5" fill="#cdcdcd"/>
<path d="M947 506.7 L944.5 505 L944.5 508.4 Z" fill="#555"/>
<rect x="950" y="502.5" width="10" height="8.5" fill="#f0f0f0"/>
<rect x="0" y="511" width="960" height="10" fill="#f2f5f9"/>
<line x1="0" y1="511.4" x2="960" y2="511.4" stroke="#7fb0e2" stroke-width=".9"/>
<text x="1" y="519.6" style="font-size:6.8px;fill:#111">(2.2800 seconds)</text>
<line x1="903" y1="512.5" x2="903" y2="521" stroke="#c8c8c8" stroke-width=".6"/>
<line x1="918" y1="512.5" x2="918" y2="521" stroke="#c8c8c8" stroke-width=".6"/>
<line x1="933" y1="512.5" x2="933" y2="521" stroke="#c8c8c8" stroke-width=".6"/>
</svg>
</body></html>
